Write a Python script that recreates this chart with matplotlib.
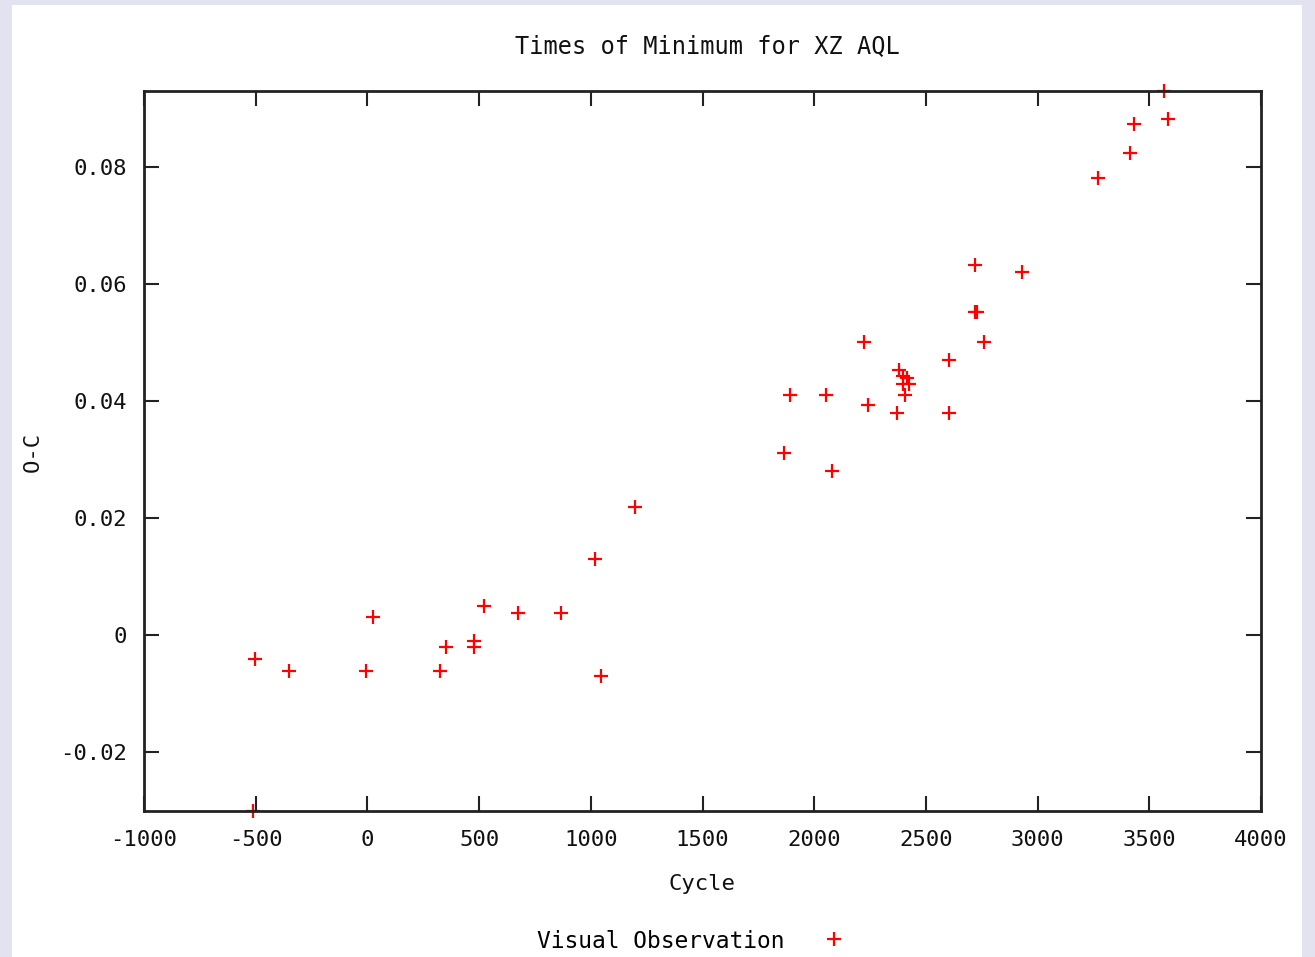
import matplotlib.pyplot as plt
from matplotlib.patches import Rectangle

# Times of minimum for XZ AQL
cycle = [-503, -351, -6, 25, 325, 352, 477, 477, 522, 674, 867, 1019, 1046, 1198,
         1865, 1892, 2053, 2080, 2223, 2241, 2371, 2380, 2397, 2415, 2397, 2424,
         2406, 2603, 2603, 2720, 2729, 2720, 2760, 2930, 3270, 3414, 3432, 3584,
         3566, -512]
o_c = [-0.0041, -0.0060, -0.0060, 0.0031, -0.0060, -0.0019, -0.0009, -0.0019,
       0.0050, 0.0039, 0.0039, 0.0130, -0.0070, 0.0220,
       0.0311, 0.0410, 0.0410, 0.0280, 0.0501, 0.0393, 0.0380, 0.0453, 0.0443,
       0.0439, 0.0429, 0.0429, 0.0410, 0.0470, 0.0380, 0.0632, 0.0552, 0.0552,
       0.0501, 0.0620, 0.0781, 0.0824, 0.0874, 0.0882, 0.0930, -0.0300]

x_ticks = list(range(-1000, 4001, 500))
y_ticks = [-0.02, 0, 0.02, 0.04, 0.06, 0.08]
y_labels = ["-0.02", "0", "0.02", "0.04", "0.06", "0.08"]

W, H = 1315, 957
fig = plt.figure(figsize=(W / 100, H / 100), dpi=100)
fig.patch.set_facecolor("#e2e2f1")
# white page panel behind everything
fig.patches.append(Rectangle((12 / W, 0), (1302 - 12) / W, 1 - 5 / H,
                             transform=fig.transFigure, facecolor="white",
                             edgecolor="none", zorder=-10))

font = "DejaVu Sans Mono"
fs = 16
ax = fig.add_axes([144 / W, 1 - 811 / H, (1261 - 144) / W, (811 - 91) / H])
ax.set_facecolor("white")

ax.plot(cycle, o_c, linestyle="none", marker="+", color="red", markersize=10,
        markeredgewidth=1.6, clip_on=False, zorder=1, label="Visual Observation")

ax.set_xlim(-1000, 4000)
ax.set_ylim(-0.03, 0.093)
ax.set_xticks(x_ticks)
ax.set_xticklabels([str(v) for v in x_ticks], fontfamily=font, fontsize=fs)
ax.set_yticks(y_ticks)
ax.set_yticklabels(y_labels, fontfamily=font, fontsize=fs)
ax.tick_params(direction="in", length=11, width=1.5, color="#222222",
               top=True, right=True, labelcolor="#111111")
ax.tick_params(axis="x", pad=14)
ax.tick_params(axis="y", pad=12)
for sp in ax.spines.values():
    sp.set_linewidth(2)
    sp.set_color("#222222")
    sp.set_zorder(3)

fig.text(707 / W, 1 - 46 / H, "Times of Minimum for XZ AQL", fontfamily=font,
         fontsize=17, ha="center", va="center", color="#111111")
fig.text(702 / W, 1 - 884 / H, "Cycle", fontfamily=font, fontsize=fs,
         ha="center", va="center", color="#111111")
fig.text(33 / W, 1 - 452 / H, "O-C", fontfamily=font, fontsize=fs,
         ha="center", va="center", rotation=90, color="#111111")

ax.legend(loc="center", bbox_to_anchor=(697 / W, 1 - 941 / H),
          bbox_transform=fig.transFigure, frameon=False, markerfirst=False,
          prop={"family": font, "size": 16.5}, handletextpad=1.2, handlelength=2)

fig.savefig("out.png", dpi=100, facecolor=fig.get_facecolor())
